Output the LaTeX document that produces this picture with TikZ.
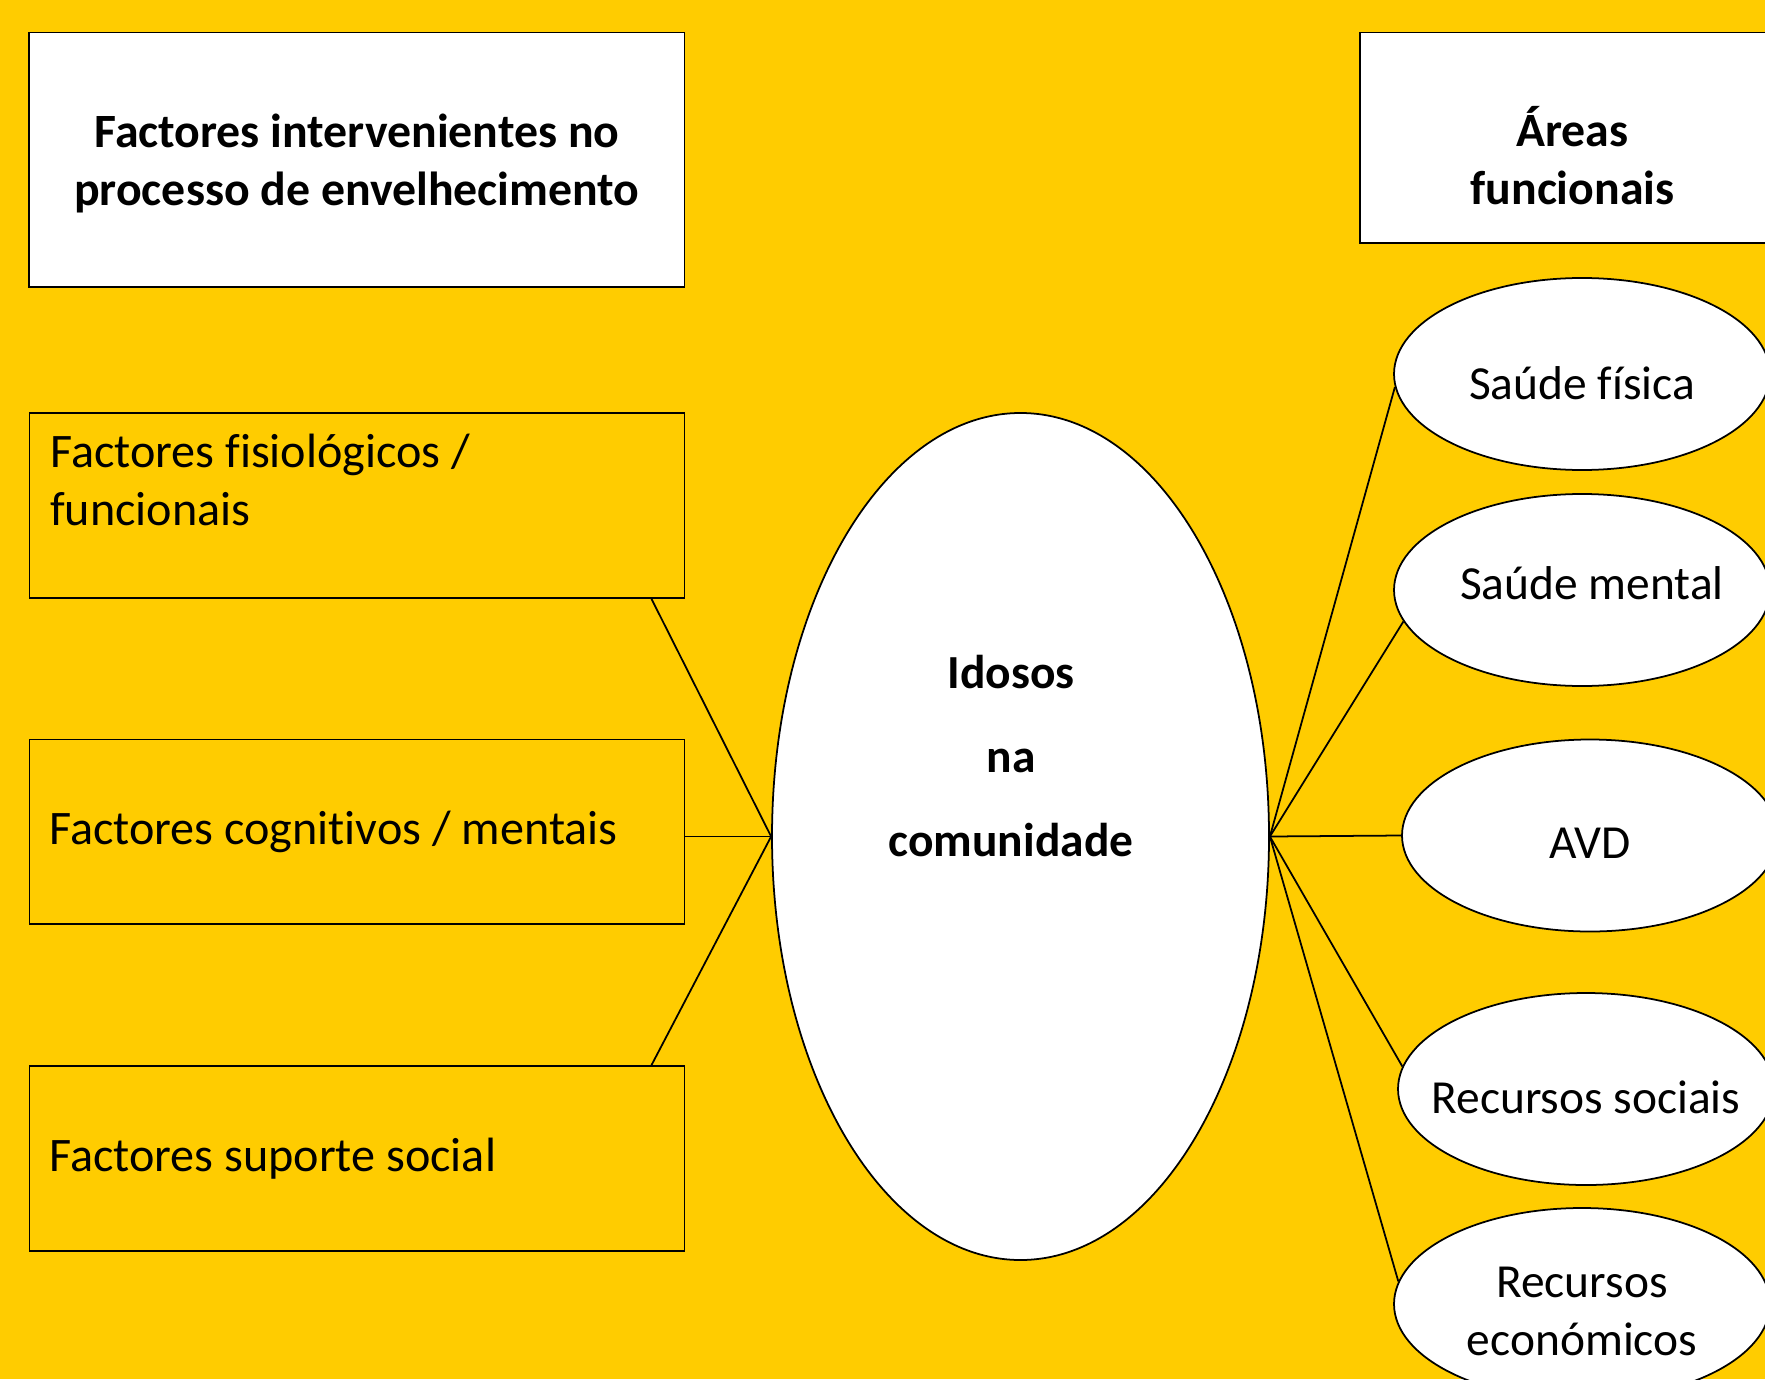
\documentclass[tikz,border=0pt]{standalone}
\usepackage{fontspec}
\setmainfont{Carlito}[Ligatures=NoCommon]
\usetikzlibrary{shapes.geometric}
\definecolor{bgyellow}{RGB}{255,204,0}
\tikzset{
	normaltext/.style={font=\fontsize{13.5}{16.6}\selectfont},
	boldtext/.style={font=\fontsize{13.6}{16.6}\selectfont\bfseries},
	headbox/.style={rectangle, draw, line width=0.5pt, fill=white},
	factorbox/.style={rectangle, draw, line width=0.5pt, minimum width=6.55cm},
	factortext/.style={font=\fontsize{13.7}{16.6}\selectfont, align=left, inner sep=0pt},
	areaellipse/.style={ellipse, draw, line width=0.5pt, fill=white, minimum width=3.76cm, minimum height=1.92cm, inner sep=0pt},
	link/.style={line width=0.5pt}
}
\begin{document}
\begin{tikzpicture}
		
		\useasboundingbox (0,0) rectangle (17.65,13.79);
		\clip (0,0) rectangle (17.65,13.79);
		\fill[bgyellow] (0,0) rectangle (17.65,13.79);
		
		%Headers
		\node (factores) at (3.569,12.192) [headbox, minimum width=6.551cm, minimum height=2.544cm]{};
		\node (factorestxt) at (3.569,12.157) [boldtext, align=center]{Factores intervenientes no\\processo de envelhecimento};
		
		\node (areas) at (15.725,12.412) [headbox, minimum width=4.25cm, minimum height=2.104cm]{};
		\node (areastxt) at (15.725,12.232) [boldtext, align=center]{Áreas\\funcionais};
		
		%Factors
		\node (fisio) at (3.569,8.735) [factorbox, minimum height=1.85cm]{};
		\node (fisiotxt) at (0.495,8.535) [anchor=base west, factortext]{Factores fisiológicos /\\funcionais};
		
		\node (cogn) at (3.569,5.472) [factorbox, minimum height=1.844cm]{};
		\node (cogntxt) at ([xshift=0.2cm]cogn.west) [anchor=west, factortext]{Factores cognitivos / mentais};
		
		\node (suporte) at (3.569,2.205) [factorbox, minimum height=1.85cm]{};
		\node (suportetxt) at ([xshift=0.2cm]suporte.west) [anchor=west, factortext]{Factores suporte social};
		
		%Centre
		\node (idosos) at (10.205,5.425) [ellipse, draw, line width=0.5pt, fill=white, minimum width=4.97cm, minimum height=8.47cm, inner sep=0pt]{};
		\node (idosostxt) at (10.11,6.23) [font=\fontsize{13.5}{24}\selectfont\bfseries, align=center]{Idosos\\na\\comunidade};
		
		%Areas
		\node (fisica) at (15.82,10.05) [areaellipse]{};
		\node (fisicatxt) at ([yshift=-0.09cm]fisica.center) [normaltext]{Saúde física};
		
		\node (mental) at (15.82,7.89) [areaellipse]{};
		\node (mentaltxt) at ([xshift=0.1cm, yshift=0.07cm]mental.center) [normaltext]{Saúde mental};
		
		\node (avd) at (15.90,5.435) [areaellipse]{};
		\node (avdtxt) at ([yshift=-0.08cm]avd.center) [normaltext]{AVD};
		
		\node (sociais) at (15.86,2.90) [areaellipse]{};
		\node (sociaistxt) at ([yshift=-0.08cm]sociais.center) [normaltext]{Recursos sociais};
		
		\node (economicos) at (15.82,0.75) [areaellipse]{};
		\node (economicostxt) at ([yshift=-0.075cm]economicos.center) [normaltext, align=center]{Recursos\\económicos};
		
		%Links
		\draw[link] ([xshift=-0.338cm]fisio.south east) -- (idosos.west);
		\draw[link] (cogn.east |- idosos.west) -- (idosos.west);
		\draw[link] ([xshift=-0.338cm]suporte.north east) -- (idosos.west);
		
		\draw[link] (idosos.east) -- (fisica.184);
		\draw[link] (idosos.east) -- (mental.190);
		\draw[link] (idosos.east) -- (avd.west);
		\draw[link] (idosos.east) -- (sociais.173);
		\draw[link] (idosos.east) -- (economicos.173);
		
		\end{tikzpicture}
\end{document}
